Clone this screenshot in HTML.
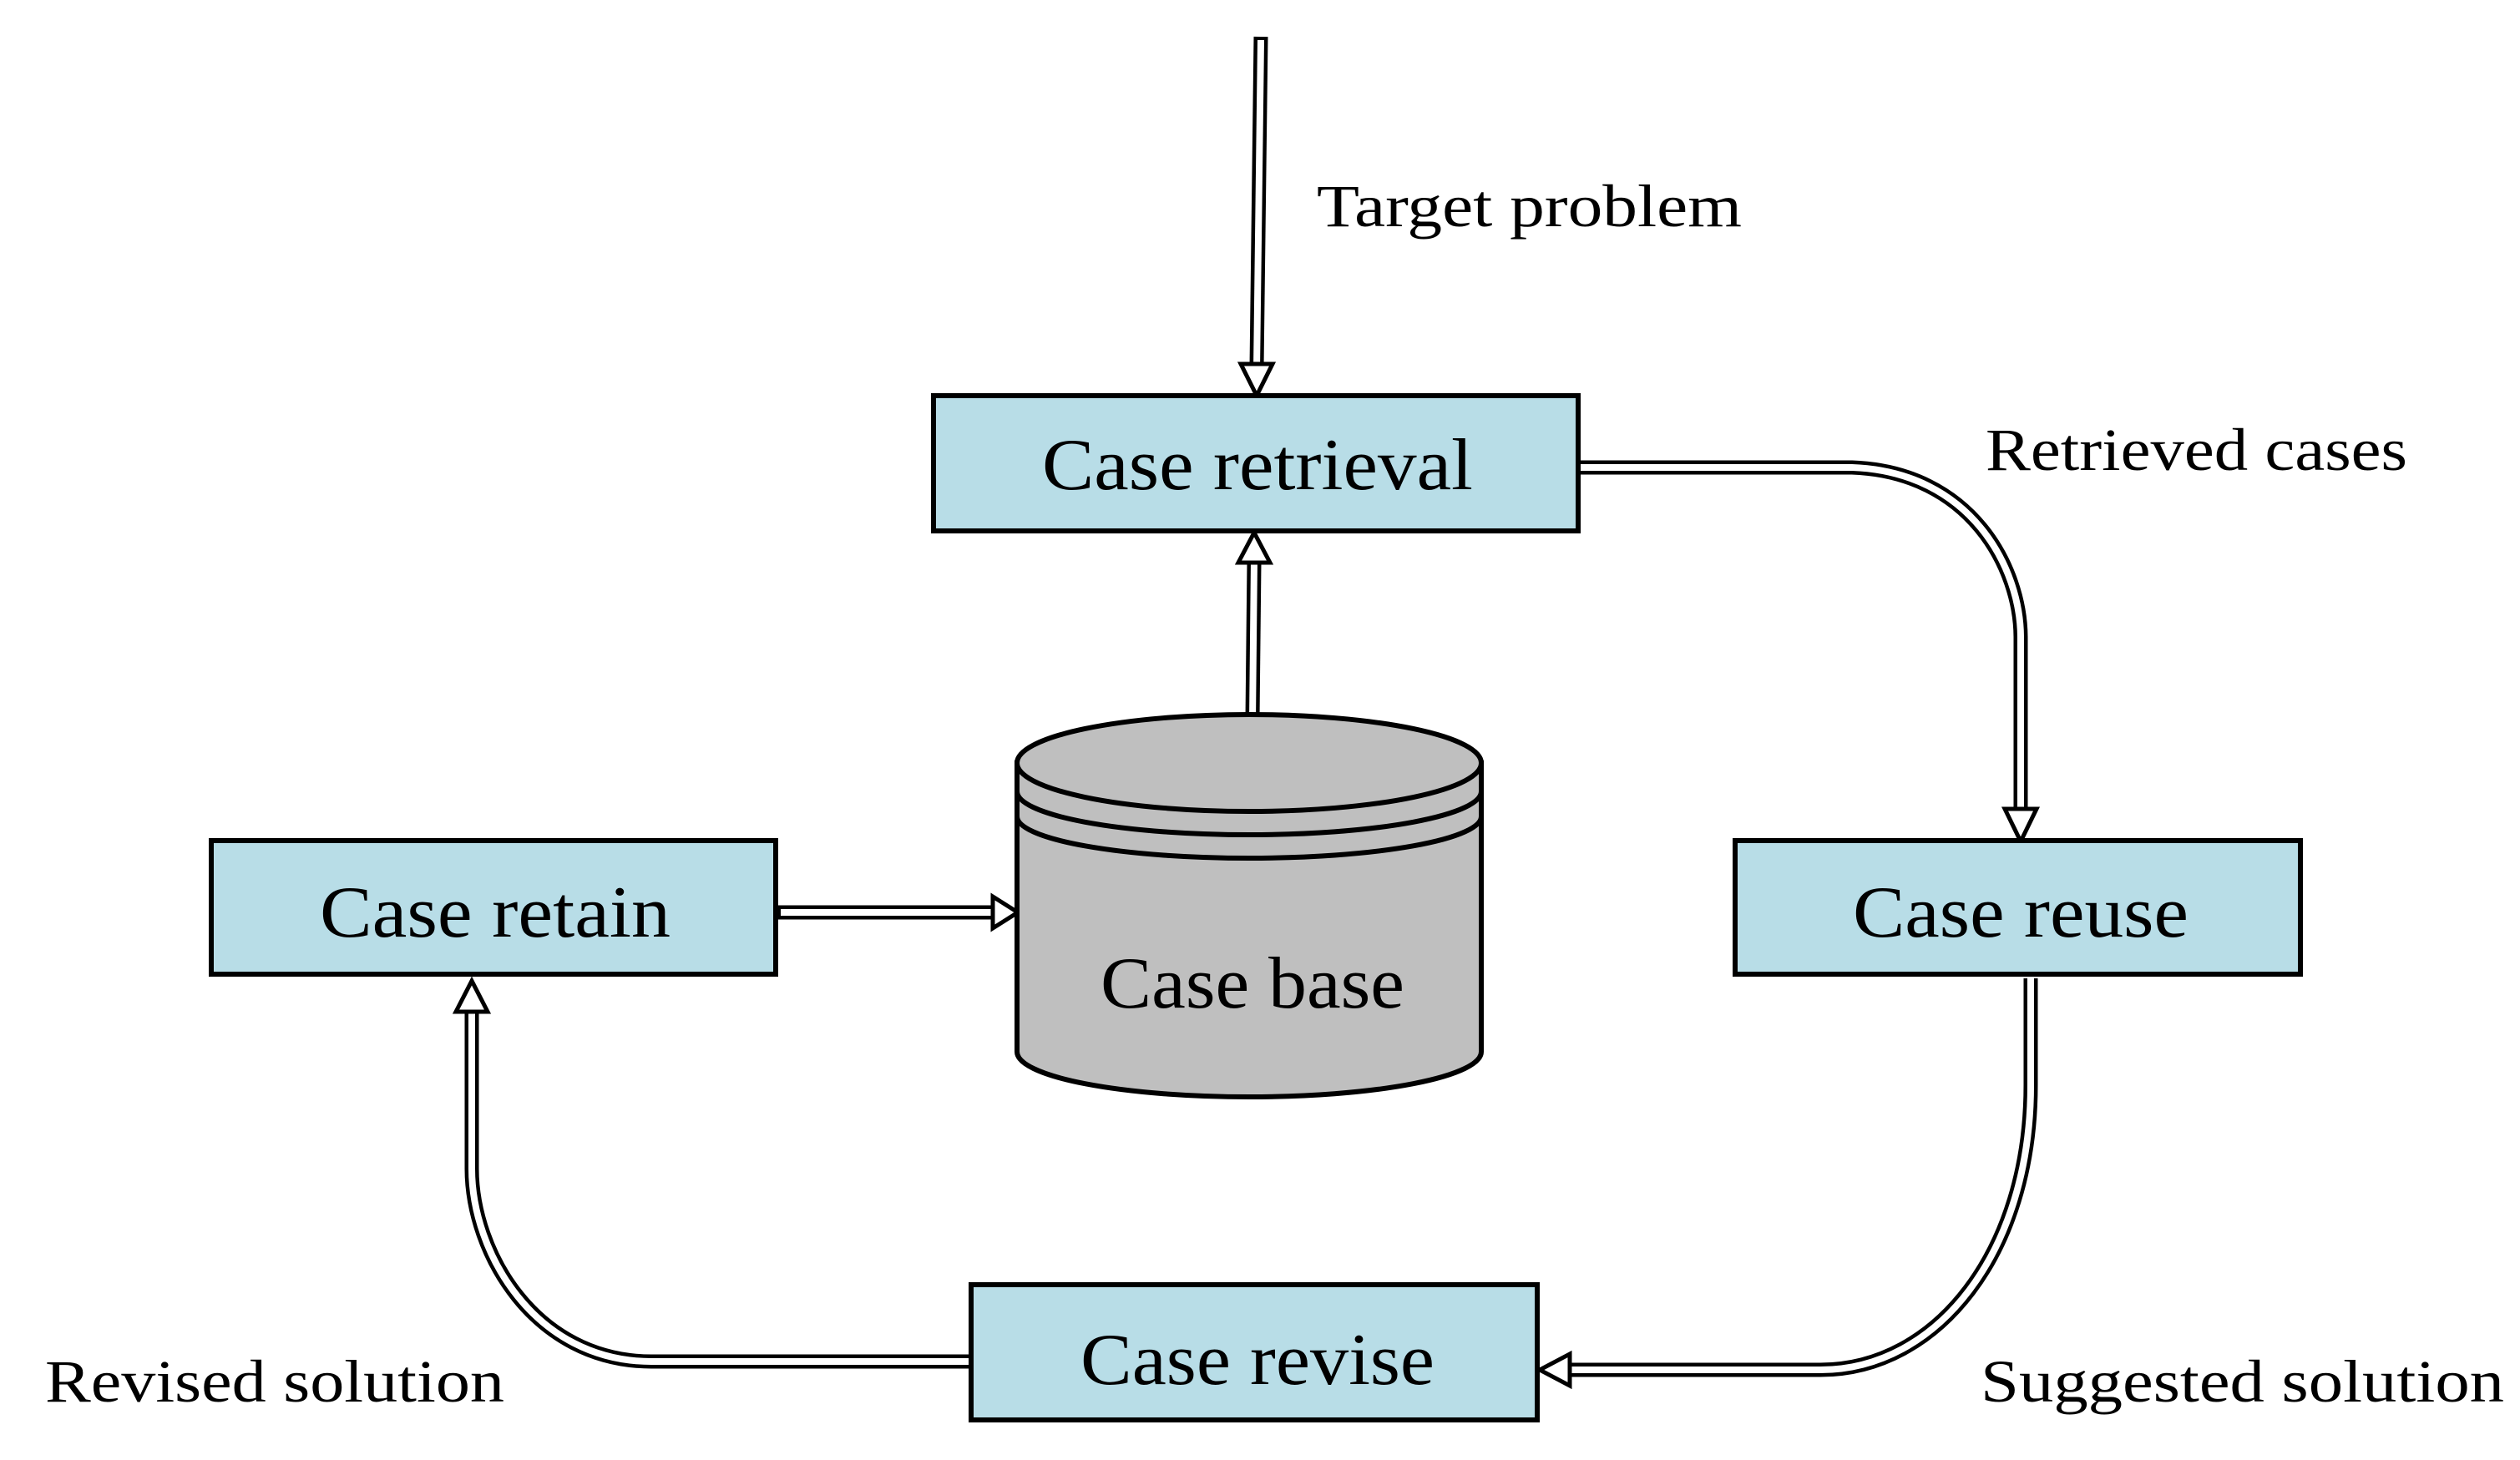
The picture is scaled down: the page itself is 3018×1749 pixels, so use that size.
<!DOCTYPE html>
<html><head><meta charset="utf-8"><style>body{margin:0;background:#fff}svg{display:block}</style></head>
<body>
<svg width="3018" height="1749" viewBox="0 0 3018 1749" xmlns="http://www.w3.org/2000/svg" font-family="'Liberation Serif', serif">
<rect width="3018" height="1749" fill="#fff"/>
<g fill="none" stroke-linejoin="round">
  <g stroke="#000" stroke-width="17">
    <path d="M1510 44 L1505 440"/>
    <path d="M1890 560 L2218 560 C2360 565 2420 680 2420 764 L2420 972"/>
    <path d="M2432 1172 L2432 1300 C2432 1500 2320 1641 2180 1641 L1880 1641"/>
    <path d="M1165 1631 L780 1631 C640 1631 565 1500 565 1400 L565 1210"/>
    <path d="M931 1093 L1187 1093"/>
    <path d="M1500 860 L1502 674"/>
  </g>
  <g stroke="#fff" stroke-width="8">
    <path d="M1510 48 L1505 444"/>
    <path d="M1886 560 L2218 560 C2360 565 2420 680 2420 764 L2420 976"/>
    <path d="M2432 1168 L2432 1300 C2432 1500 2320 1641 2180 1641 L1876 1641"/>
    <path d="M1161 1631 L780 1631 C640 1631 565 1500 565 1400 L565 1206"/>
    <path d="M935 1093 L1191 1093"/>
    <path d="M1500 864 L1502 670"/>
  </g>
</g>
<g fill="#fff" stroke="#000" stroke-width="5" stroke-linejoin="miter">
  <polygon points="1486,436 1524,436 1505,474"/>
  <polygon points="2401,969 2439,969 2420,1008"/>
  <polygon points="1880,1622 1880,1660 1844,1641"/>
  <polygon points="546,1212 584,1212 565,1175"/>
  <polygon points="1189,1074 1189,1112 1219,1093"/>
  <polygon points="1483,674 1521,674 1502,638"/>
</g>
<g fill="#b8dde7" stroke="#000" stroke-width="6">
  <rect x="1118" y="474" width="772" height="162"/>
  <rect x="253" y="1007" width="676" height="160"/>
  <rect x="2078" y="1007" width="677" height="160"/>
  <rect x="1163" y="1539" width="678" height="162"/>
</g>
<g stroke="#000" stroke-width="6" fill="#bfbfbf">
  <path d="M1218 914 L1218 1260 A278 54 0 0 0 1774 1260 L1774 914 Z"/>
  <ellipse cx="1496" cy="914" rx="278" ry="58"/>
  <path d="M1218 948 A278 52 0 0 0 1774 948" fill="none"/>
  <path d="M1218 978 A278 50 0 0 0 1774 978" fill="none"/>
</g>
<g font-size="88" fill="#000">
  <text x="1248" y="586" textLength="516" lengthAdjust="spacingAndGlyphs">Case retrieval</text>
  <text x="383" y="1122" textLength="420" lengthAdjust="spacingAndGlyphs">Case retain</text>
  <text x="2219" y="1122" textLength="402" lengthAdjust="spacingAndGlyphs">Case reuse</text>
  <text x="1294" y="1658" textLength="424" lengthAdjust="spacingAndGlyphs">Case revise</text>
  <text x="1318" y="1207" textLength="364" lengthAdjust="spacingAndGlyphs">Case base</text>
</g>
<g font-size="72" fill="#000">
  <text x="1577" y="271" textLength="509" lengthAdjust="spacingAndGlyphs">Target problem</text>
  <text x="2378" y="563" textLength="505" lengthAdjust="spacingAndGlyphs">Retrieved cases</text>
  <text x="54" y="1679" textLength="550" lengthAdjust="spacingAndGlyphs">Revised solution</text>
  <text x="2372" y="1679" textLength="627" lengthAdjust="spacingAndGlyphs">Suggested solution</text>
</g>
</svg>
</body></html>
